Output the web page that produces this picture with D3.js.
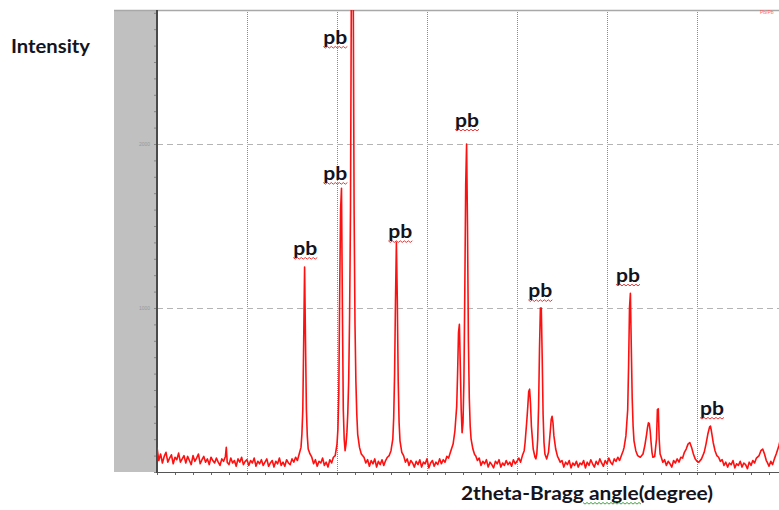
<!DOCTYPE html>
<html>
<head>
<meta charset="utf-8">
<script src="https://cdn.jsdelivr.net/npm/d3@7/dist/d3.min.js"></script>
<style>
  body { margin: 0; background: #fff; }
  svg { display: block; }
  .lbl { font-family: Lato, "Open Sans", sans-serif; font-weight: bold; fill: #14141e; }
</style>
</head>
<body>
<svg id="chart" width="779" height="510"></svg>
<script>
// XRD pattern: [2theta (deg), counts]
var pattern = [
  [20.0, 150], [20.2, 70], [20.4, 110], [20.6, 55], [20.8, 95], [21.0, 120], [21.2, 60], [21.4, 85], [21.6, 105], [21.8, 50],
  [22.0, 90], [22.2, 75], [22.4, 115], [22.6, 60], [22.8, 80], [23.0, 100], [23.2, 55], [23.4, 95], [23.6, 70], [23.8, 45],
  [24.0, 100], [24.2, 65], [24.4, 85], [24.6, 110], [24.8, 50], [25.0, 75], [25.2, 95], [25.4, 60], [25.6, 80], [25.8, 45],
  [26.0, 90], [26.2, 70], [26.4, 55], [26.6, 85], [26.8, 60], [27.0, 40], [27.2, 80], [27.4, 65], [27.6, 95], [27.7, 150],
  [27.8, 60], [28.0, 45], [28.2, 85], [28.4, 55], [28.6, 70], [28.8, 35], [29.0, 80], [29.2, 60], [29.4, 90], [29.6, 45],
  [29.8, 65], [30.0, 75], [30.2, 40], [30.4, 70], [30.6, 55], [30.8, 85], [31.0, 35], [31.2, 65], [31.4, 50], [31.6, 75],
  [31.8, 40], [32.0, 60], [32.2, 80], [32.4, 35], [32.6, 55], [32.8, 70], [33.0, 30], [33.2, 65], [33.4, 50], [33.6, 85],
  [33.8, 40], [34.0, 60], [34.2, 35], [34.4, 75], [34.6, 55], [34.8, 45], [35.0, 80], [35.2, 60], [35.4, 90], [35.6, 70],
  [35.8, 110], [36.0, 150], [36.1, 230], [36.2, 380], [36.3, 800], [36.4, 1250], [36.5, 800], [36.6, 380], [36.7, 220], [36.8, 140],
  [37.0, 110], [37.2, 90], [37.4, 50], [37.6, 75], [37.8, 35], [38.0, 65], [38.2, 55], [38.4, 85], [38.6, 40], [38.8, 60],
  [39.0, 30], [39.2, 75], [39.4, 55], [39.6, 90], [39.8, 100], [40.0, 170], [40.1, 260], [40.2, 480], [40.3, 1100], [40.4, 1600],
  [40.5, 1730], [40.6, 1000], [40.7, 380], [40.8, 200], [40.9, 130], [41.0, 170], [41.1, 240], [41.2, 360], [41.3, 560], [41.4, 950],
  [41.5, 1600], [41.6, 3000], [41.7, 3400], [41.8, 3000], [41.9, 1600], [42.0, 900], [42.1, 550], [42.2, 350], [42.3, 230], [42.5, 150],
  [42.7, 110], [43.0, 90], [43.2, 55], [43.4, 75], [43.6, 35], [43.8, 70], [44.0, 50], [44.2, 80], [44.4, 30], [44.6, 65],
  [44.8, 45], [45.0, 75], [45.2, 40], [45.4, 70], [45.6, 90], [45.8, 100], [46.0, 130], [46.2, 200], [46.3, 330], [46.4, 600],
  [46.5, 1050], [46.6, 1400], [46.7, 1050], [46.8, 560], [46.9, 300], [47.0, 190], [47.2, 120], [47.4, 100], [47.6, 60], [47.8, 80],
  [48.0, 40], [48.2, 70], [48.4, 55], [48.6, 30], [48.8, 65], [49.0, 45], [49.2, 75], [49.4, 30], [49.6, 60], [49.8, 50],
  [50.0, 80], [50.2, 25], [50.4, 55], [50.6, 70], [50.8, 35], [51.0, 60], [51.2, 45], [51.4, 80], [51.6, 50], [51.8, 75],
  [52.0, 60], [52.2, 95], [52.4, 85], [52.6, 120], [52.9, 170], [53.1, 250], [53.3, 400], [53.4, 600], [53.5, 850], [53.6, 900],
  [53.7, 650], [53.8, 380], [53.9, 240], [54.0, 300], [54.1, 550], [54.2, 1100], [54.3, 1750], [54.4, 2000], [54.5, 1500], [54.6, 800],
  [54.7, 450], [54.8, 280], [54.9, 200], [55.1, 140], [55.3, 105], [55.4, 100], [55.6, 70], [55.8, 85], [56.0, 40], [56.2, 65],
  [56.4, 50], [56.6, 75], [56.8, 30], [57.0, 60], [57.2, 45], [57.4, 25], [57.6, 65], [57.8, 50], [58.0, 75], [58.2, 30],
  [58.4, 55], [58.6, 40], [58.8, 70], [59.0, 45], [59.2, 60], [59.4, 35], [59.6, 75], [59.8, 50], [60.0, 65], [60.2, 85],
  [60.4, 60], [60.6, 100], [60.8, 130], [60.9, 180], [61.1, 320], [61.2, 400], [61.3, 490], [61.4, 505], [61.5, 420], [61.6, 280],
  [61.8, 140], [62.0, 90], [62.1, 80], [62.2, 110], [62.3, 200], [62.4, 400], [62.5, 750], [62.6, 1000], [62.7, 1000], [62.8, 700],
  [62.9, 350], [63.0, 180], [63.1, 110], [63.3, 80], [63.5, 120], [63.7, 250], [63.8, 320], [63.9, 340], [64.0, 300], [64.1, 220],
  [64.3, 140], [64.5, 95], [64.6, 85], [64.8, 60], [65.0, 70], [65.2, 30], [65.4, 60], [65.6, 45], [65.8, 70], [66.0, 25],
  [66.2, 55], [66.4, 40], [66.6, 65], [66.8, 30], [67.0, 55], [67.2, 45], [67.4, 70], [67.6, 25], [67.8, 60], [68.0, 40],
  [68.2, 75], [68.4, 50], [68.6, 30], [68.8, 65], [69.0, 45], [69.2, 80], [69.4, 55], [69.6, 35], [69.8, 70], [70.0, 50],
  [70.2, 85], [70.4, 60], [70.6, 45], [70.8, 80], [71.0, 65], [71.2, 90], [71.4, 70], [71.6, 100], [71.8, 130], [71.9, 150],
  [72.1, 220], [72.3, 380], [72.4, 650], [72.5, 1000], [72.6, 1090], [72.7, 760], [72.8, 450], [72.9, 280], [73.0, 190], [73.2, 130],
  [73.4, 100], [73.7, 90], [74.0, 110], [74.2, 160], [74.4, 230], [74.5, 270], [74.6, 300], [74.7, 295], [74.8, 250], [74.9, 180],
  [75.0, 120], [75.1, 90], [75.3, 95], [75.5, 200], [75.6, 380], [75.7, 385], [75.8, 200], [75.9, 110], [76.0, 95], [76.2, 60],
  [76.4, 75], [76.6, 40], [76.8, 65], [77.0, 50], [77.2, 30], [77.4, 70], [77.6, 55], [77.8, 80], [78.0, 60], [78.2, 90],
  [78.4, 85], [78.6, 120], [78.8, 140], [79.0, 170], [79.2, 180], [79.4, 150], [79.6, 110], [79.8, 80], [80.0, 65], [80.2, 60],
  [80.5, 80], [80.8, 120], [81.0, 170], [81.2, 230], [81.4, 275], [81.5, 280], [81.6, 250], [81.8, 180], [82.0, 130], [82.2, 100],
  [82.4, 90], [82.6, 65], [82.8, 75], [83.0, 40], [83.2, 60], [83.4, 30], [83.6, 55], [83.8, 45], [84.0, 70], [84.2, 25],
  [84.4, 50], [84.6, 40], [84.8, 65], [85.0, 30], [85.2, 55], [85.4, 45], [85.6, 20], [85.8, 60], [86.0, 40], [86.2, 70],
  [86.4, 55], [86.6, 85], [86.9, 100], [87.1, 130], [87.3, 140], [87.5, 110], [87.7, 70], [87.8, 60], [88.0, 35], [88.2, 65],
  [88.4, 45], [88.6, 80], [88.8, 110], [89.1, 160], [89.4, 230]
];

// "pb" annotations: [2theta, counts] of the text baseline start
var labelAngles = [38.48, 38.48, 35.14, 45.70, 53.11, 61.26, 71.0, 80.33];
var labelCounts = [2610, 1780, 1323, 1425, 2105, 1065, 1160, 348];
var labelText = "pb";

var xGrid = [30, 40, 50, 60, 70, 80];
var yGrid = [1000, 2000];
var yTickLabels = ["1000", "2000"];

var svg = d3.select("#chart");
var plot = {left: 157, right: 779, top: 10, bottom: 472};

var x = d3.scaleLinear().domain([20, 90]).range([plot.left, plot.left + 630]);
var y = d3.scaleLinear().domain([0, 3000]).range([plot.bottom, plot.bottom - 492]);

// grey band left of the plot
svg.append("rect")
    .attr("x", 114).attr("y", plot.top)
    .attr("width", plot.left - 114).attr("height", plot.bottom - plot.top)
    .attr("fill", "#c0c0c0");

svg.append("clipPath").attr("id", "clip")
  .append("rect")
    .attr("x", plot.left).attr("y", plot.top)
    .attr("width", plot.right - plot.left).attr("height", plot.bottom - plot.top);

// grid
svg.append("g").selectAll("line")
    .data(xGrid).enter().append("line")
    .attr("x1", function(d) { return x(d) + 0.5; })
    .attr("x2", function(d) { return x(d) + 0.5; })
    .attr("y1", plot.top).attr("y2", plot.bottom)
    .attr("stroke", "#8a8a8a").attr("stroke-width", 1)
    .attr("stroke-dasharray", "1,1");

svg.append("g").selectAll("line")
    .data(yGrid).enter().append("line")
    .attr("x1", plot.left).attr("x2", plot.right)
    .attr("y1", function(d) { return Math.round(y(d)) + 0.5; })
    .attr("y2", function(d) { return Math.round(y(d)) + 0.5; })
    .attr("stroke", "#b4b4b4").attr("stroke-width", 1)
    .attr("stroke-dasharray", "6,4");

// axes
var yAxis = d3.axisLeft(y).tickValues(d3.range(0, 2900, 100)).tickSize(3).tickFormat("");
svg.append("g")
    .attr("transform", "translate(" + plot.left + ",0)")
    .call(yAxis)
    .call(function(g) {
        g.select(".domain").remove();
        g.selectAll(".tick line").attr("stroke", "#888");
    });

svg.append("g").selectAll("text")
    .data(yGrid).enter().append("text")
    .attr("x", plot.left - 7)
    .attr("y", function(d) { return y(d) + 2; })
    .attr("text-anchor", "end")
    .attr("font-family", "Liberation Sans, sans-serif")
    .attr("font-size", 5)
    .attr("fill", "#999")
    .text(function(d, i) { return yTickLabels[i]; });

var xAxis = d3.axisBottom(x).tickValues(d3.range(20, 90, 2)).tickSize(3).tickFormat("");
svg.append("g")
    .attr("transform", "translate(0," + plot.bottom + ")")
    .call(xAxis)
    .call(function(g) {
        g.select(".domain").remove();
        g.selectAll(".tick line").attr("stroke", "#666");
    });

svg.append("line")
    .attr("x1", plot.left).attr("x2", plot.right)
    .attr("y1", plot.bottom + 0.5).attr("y2", plot.bottom + 0.5)
    .attr("stroke", "#555").attr("stroke-width", 1);

svg.append("line")
    .attr("x1", 114).attr("x2", plot.right)
    .attr("y1", plot.top + 0.5).attr("y2", plot.top + 0.5)
    .attr("stroke", "#a8a8a8").attr("stroke-width", 1.5);

svg.append("line")
    .attr("x1", plot.left).attr("x2", plot.left)
    .attr("y1", plot.top).attr("y2", plot.bottom + 1)
    .attr("stroke", "#4a4a4a").attr("stroke-width", 2);

// spectrum
var line = d3.line()
    .x(function(d) { return x(d[0]); })
    .y(function(d) { return y(d[1]); });

svg.append("path")
    .datum(pattern)
    .attr("clip-path", "url(#clip)")
    .attr("d", line)
    .attr("fill", "none")
    .attr("stroke", "#ff1010")
    .attr("stroke-width", 1.6)
    .attr("stroke-linejoin", "round");

// tiny red mark top right
svg.append("text")
    .attr("x", 760).attr("y", 14)
    .attr("font-family", "Liberation Sans, sans-serif")
    .attr("font-size", 5)
    .attr("fill", "#ff6060")
    .text("Pb/Pb");

// labels with wavy underline
function wavy(x0, y0, w) {
    var p = "M" + x0 + "," + y0;
    for (var i = 0; i * 2 < w; i++) {
        p += " L" + (x0 + (i + 1) * 2) + "," + (y0 + (i % 2 ? 0 : 1.6));
    }
    return p;
}

var labels = svg.append("g").selectAll("g")
    .data(labelAngles).enter().append("g");

labels.append("text")
    .attr("class", "lbl")
    .attr("x", function(d) { return x(d); })
    .attr("y", function(d, i) { return y(labelCounts[i]); })
    .attr("font-size", 19)
    .attr("textLength", 24)
    .attr("lengthAdjust", "spacingAndGlyphs")
    .text(labelText);

labels.append("path")
    .attr("d", function(d, i) { return wavy(x(d), y(labelCounts[i]) + 2.5, 24); })
    .attr("fill", "none")
    .attr("stroke", "#e02020")
    .attr("stroke-width", 0.9);

// axis titles
svg.append("text")
    .attr("class", "lbl")
    .attr("x", 11).attr("y", 53)
    .attr("font-size", 19)
    .attr("textLength", 79)
    .attr("lengthAdjust", "spacingAndGlyphs")
    .text("Intensity");

svg.append("text")
    .attr("class", "lbl")
    .attr("x", 461).attr("y", 500)
    .attr("font-size", 19)
    .attr("textLength", 252)
    .attr("lengthAdjust", "spacingAndGlyphs")
    .text("2theta-Bragg angle(degree)");

svg.append("path")
    .attr("d", wavy(583, 502.5, 58))
    .attr("fill", "none")
    .attr("stroke", "#2a9a2a")
    .attr("stroke-width", 0.9);
</script>
</body>
</html>
